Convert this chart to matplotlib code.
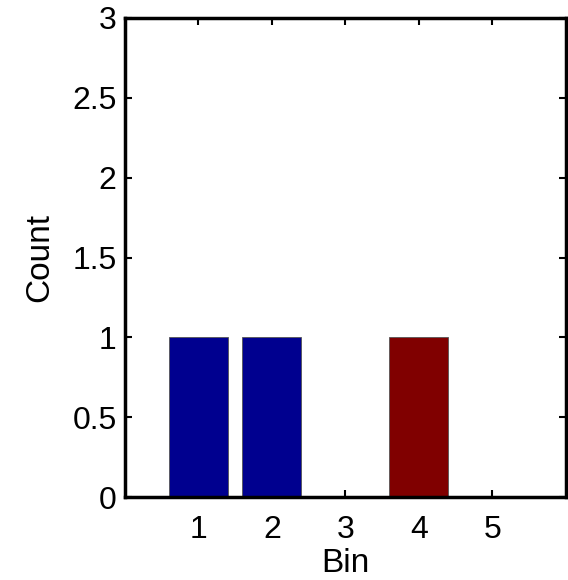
import matplotlib
matplotlib.use("Agg")
import matplotlib.pyplot as plt

bins = [1, 2, 3, 4, 5]
counts = [1, 1, 0, 1, 0]
bar_colors = ["#00008f", "#00008f", "#00008f", "#800000", "#800000"]
xtick_labels = ["1", "2", "3", "4", "5"]
yticks = [0, 0.5, 1, 1.5, 2, 2.5, 3]
ytick_labels = ["0", "0.5", "1", "1.5", "2", "2.5", "3"]

plt.rcParams['font.family'] = ['Liberation Sans', 'DejaVu Sans']

fig = plt.figure(figsize=(5.68, 5.80), dpi=100)
ax = fig.add_axes([0.220, 0.143, 0.776, 0.826])

ax.bar(bins, counts, width=0.8, color=bar_colors, edgecolor="#555555", linewidth=0.6, zorder=2)

ax.set_xlim(0, 6)
ax.set_ylim(0, 3)
ax.set_xticks(bins)
ax.set_xticklabels(xtick_labels)
ax.set_yticks(yticks)
ax.set_yticklabels(ytick_labels)

ax.tick_params(direction="in", length=5, width=1.5, top=True, right=True, labelsize=23)
ax.tick_params(axis="x", pad=13)
ax.tick_params(axis="y", pad=6)
for s in ax.spines.values():
    s.set_linewidth(2.5)
    s.set_zorder(3)

ax.set_xlabel("Bin", fontsize=24)
ax.xaxis.set_label_coords(0.5, -0.106)
ax.set_ylabel("Count", fontsize=24, labelpad=12)

fig.savefig("out.png", dpi=100)
